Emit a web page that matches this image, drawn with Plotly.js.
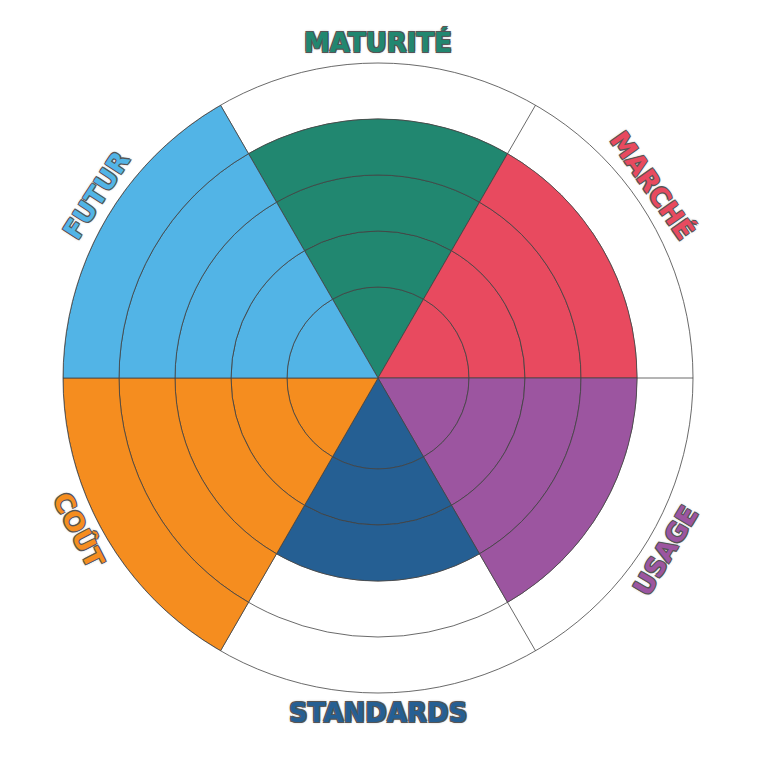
<!DOCTYPE html>
<html>
<head>
<meta charset="utf-8">
<script src="https://cdn.plot.ly/plotly-3.0.1.min.js"></script>
<style>html,body{margin:0;padding:0;background:#fff;}#chart{width:757px;height:757px;}</style>
</head>
<body>
<div id="chart"></div>
<script>
// ---- data ----
const categories = ['MATURITÉ', 'MARCHÉ', 'USAGE', 'STANDARDS', 'COÛT', 'FUTUR'];
const thetas = [90, 30, 330, 270, 210, 150];
const scores = [4, 4, 4, 3, 5, 5];
const ringTicks = [1, 2, 3, 4];
const spokeTicks = [0, 60, 120, 180, 240, 300];

// ---- styles ----
const colors = ['#218770', '#E84A5F', '#9C55A0', '#255F93', '#F58D1F', '#52B4E6'];
const radialMin = -0.625;
const radialMax = 5;
const lineColor = '#444';
const labelAngles = [90, 35, -31, 270, 207, 147];
const labelRadius = 0.532;

const traces = categories.map((name, i) => {
  const r = [], base = [], theta = [];
  for (let k = 1; k <= scores[i]; k++) {
    const b = k === 1 ? radialMin : k - 1;
    base.push(b);
    r.push(k - b);
    theta.push(thetas[i]);
  }
  return {
    type: 'barpolar',
    name: name,
    r: r,
    base: base,
    theta: theta,
    width: 60,
    marker: {color: colors[i], line: {color: lineColor, width: 0.8}},
    showlegend: false,
    hoverinfo: 'name'
  };
});

const shadow = '-1px -1px 0 #555, 1px -1px 0 #555, -1px 1px 0 #555, 1px 1px 0 #555, 0 0 3px #888';
const annotations = categories.map((name, i) => {
  const a = labelAngles[i];
  const rad = a * Math.PI / 180;
  const s = Math.sin(rad);
  const rot = s >= 0 ? 90 - a : -90 - a;
  return {
    xref: 'paper', yref: 'paper',
    x: 0.5 + labelRadius * Math.cos(rad),
    y: 0.5 + labelRadius * Math.sin(rad),
    text: name,
    showarrow: false,
    xanchor: 'center', yanchor: 'middle',
    textangle: rot,
    font: {family: 'DejaVu Sans', size: 26, weight: 'bold', color: colors[i], shadow: shadow}
  };
});

const layout = {
  width: 757, height: 757,
  margin: {l: 63, r: 64, t: 63, b: 64},
  paper_bgcolor: '#fff',
  showlegend: false,
  polar: {
    domain: {x: [0, 1], y: [0, 1]},
    bgcolor: '#fff',
    barmode: 'overlay',
    bargap: 0,
    radialaxis: {
      range: [radialMin, radialMax],
      tickvals: ringTicks,
      showticklabels: false,
      ticks: '',
      showline: false,
      gridcolor: lineColor,
      gridwidth: 0.8
    },
    angularaxis: {
      type: 'linear',
      rotation: 0,
      direction: 'counterclockwise',
      tickvals: spokeTicks,
      showticklabels: false,
      ticks: '',
      showline: true,
      linecolor: lineColor,
      linewidth: 0.8,
      gridcolor: lineColor,
      gridwidth: 0.8
    }
  },
  annotations: annotations
};

Plotly.newPlot('chart', traces, layout, {displayModeBar: false, staticPlot: true});
</script>
</body>
</html>
